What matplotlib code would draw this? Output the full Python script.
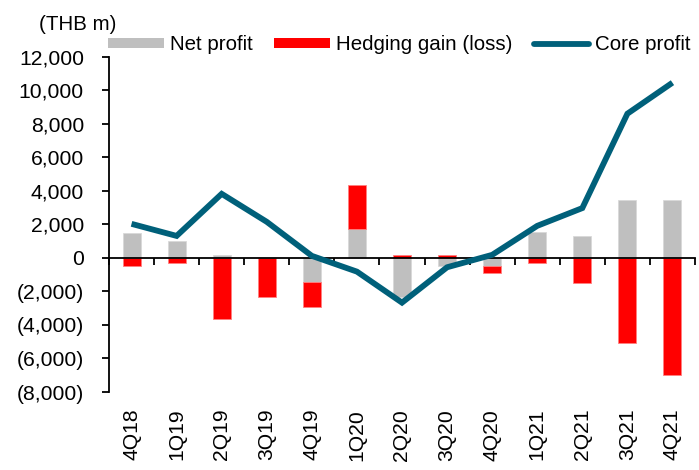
import matplotlib
matplotlib.use("Agg")
import matplotlib.pyplot as plt
import numpy as np
from matplotlib.ticker import FuncFormatter, FixedLocator
from matplotlib.transforms import blended_transform_factory
from matplotlib.lines import Line2D
from matplotlib.patches import Patch

categories = ["4Q18", "1Q19", "2Q19", "3Q19", "4Q19", "1Q20", "2Q20",
              "3Q20", "4Q20", "1Q21", "2Q21", "3Q21", "4Q21"]
net_profit = [1475, 1000, 150, 0, -1410, 1710, -2310, -460, -460, 1570, 1330, 3480, 3480]
hedging = [-460, -320, -3660, -2330, -1515, 2630, 160, 160, -455, -320, -1510, -5095, -7000]
core_profit = [2030, 1310, 3820, 2150, 120, -820, -2670, -560, 180, 1910, 2970, 8600, 10450]
y_ticks = list(range(-8000, 12001, 2000))

plt.rcParams['font.family'] = ['Liberation Sans', 'DejaVu Sans']
FS = 15.2
LFS = 14.8

W, H = 699, 470
fig = plt.figure(figsize=(W / 100, H / 100), dpi=100)
ax = fig.add_axes([109 / W, (H - 392) / H, (695 - 109) / W, (392 - 56.7) / H])

x = np.arange(len(categories))
net = np.array(net_profit, dtype=float)
hed = np.array(hedging, dtype=float)
same = np.sign(net) == np.sign(hed)
hed_bottom = np.where(same, net, 0.0)

grey = '#BFBFBF'
red = '#FF0000'
teal = '#00607A'
bw = 0.4
ax.bar(x, net, width=bw, color=grey, edgecolor='#D9D9D9', linewidth=0.6, zorder=2)
ax.bar(x, hed, width=bw, bottom=hed_bottom, color=red, edgecolor='#FF8080', linewidth=0.6, zorder=2)
ax.plot(x, core_profit, color=teal, lw=4.2, solid_joinstyle='miter', solid_capstyle='butt', zorder=4)

ax.set_xlim(-0.5, len(categories) - 0.5)
ax.set_ylim(-8000, 12000)
ax.set_yticks(y_ticks)

def fmt(v, pos):
    v = int(round(v))
    if v < 0:
        return "({:,})".format(-v)
    return "{:,}".format(v)

ax.yaxis.set_major_formatter(FuncFormatter(fmt))
ax.tick_params(axis='y', direction='out', length=5, width=1.3, labelsize=FS, pad=13, colors='black')
ax.spines['bottom'].set_position(('data', 0))
ax.spines['bottom'].set_zorder(3)
ax.xaxis.set_major_locator(FixedLocator(np.arange(-0.5, len(categories), 1.0)))
ax.tick_params(axis='x', direction='out', length=5, width=1.3, labelbottom=False)
for s in ['top', 'right']:
    ax.spines[s].set_visible(False)
ax.spines['left'].set_linewidth(1.3)
ax.spines['bottom'].set_linewidth(1.3)

trans = blended_transform_factory(ax.transData, ax.transAxes)
for i, c in enumerate(categories):
    ax.text(i, -0.05, c, rotation=90, ha='center', va='top', fontsize=FS, transform=trans)

fig.text(78 / W, 1 - 24 / H, "(THB m)", ha='center', va='center', fontsize=LFS)

handles = [Patch(facecolor=grey, edgecolor='none'),
           Patch(facecolor=red, edgecolor='none'),
           Line2D([0], [0], color=teal, lw=4.2, solid_capstyle='round')]
labels = ["Net profit", "Hedging gain (loss)", "Core profit"]
fig.legend(handles, labels, loc='center left', bbox_to_anchor=(108 / W, 1 - 45 / H),
           ncol=3, frameon=False, fontsize=LFS, handlelength=2.7, handleheight=0.42,
           handletextpad=0.3, columnspacing=1.05, borderpad=0, borderaxespad=0)

fig.savefig("out.png", dpi=100)
